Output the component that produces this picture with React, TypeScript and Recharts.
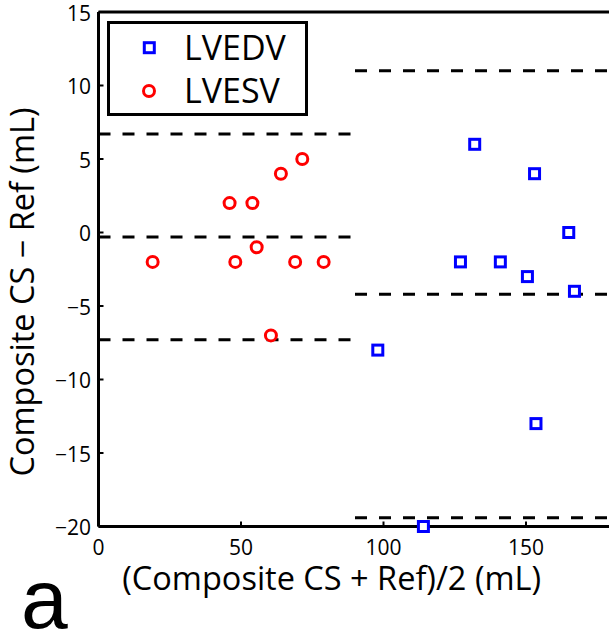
import React from 'react'
import { ScatterChart, Scatter, XAxis, YAxis, ReferenceLine, Legend, Label } from 'recharts'

// Bland-Altman style data: mean of methods vs difference
const edvX = [98, 114, 127, 132, 141, 150.5, 153, 153.5, 165, 167]
const edvY = [-8, -20, -2, 6, -2, -3, 4, -13, 0, -4]
const esvX = [19, 46, 48, 54, 55.5, 60.5, 64, 69, 71.5, 79]
const esvY = [-2, 2, -2, 2, -1, -7, 4, -2, 5, -2]

// upper limit, mean, lower limit
const edvLimits = [11, -4.2, -19.4]
const esvLimits = [6.7, -0.3, -7.3]
const esvSpan = [0, 90]
const edvSpan = [90, 180]

const xTicks = [0, 50, 100, 150]
const yTicks = [-20, -15, -10, -5, 0, 5, 10, 15]

const edvData = edvX.map((x, i) => ({ x, y: edvY[i] }))
const esvData = esvX.map((x, i) => ({ x, y: esvY[i] }))

const FONT = '"Open Sans", sans-serif'
const BLUE = '#0000ff'
const RED = '#ff0000'

const Square = ({ cx, cy }: any) => (
  <rect x={cx - 5} y={cy - 5} width={10} height={10} fill="#fff" stroke={BLUE} strokeWidth={3} />
)
const Ring = ({ cx, cy }: any) => (
  <circle cx={cx} cy={cy} r={5.5} fill="#fff" stroke={RED} strokeWidth={3} />
)

const XTick = ({ x, payload }: any) => (
  <text x={x} y={554.5} textAnchor="middle" fontFamily={FONT} fontSize={21} fill="#000">
    {payload.value}
  </text>
)
const YTick = ({ y, payload }: any) => (
  <text x={91} y={y + 1} dy="0.36em" textAnchor="end" fontFamily={FONT} fontSize={21} fill="#000">
    {String(payload.value).replace('-', '\u2212')}
  </text>
)

const LegendBox = ({ payload }: any) => (
  <div style={{ width: 201, height: 95, border: '3px solid #000', boxSizing: 'border-box', background: '#fff' }}>
    <svg width={195} height={89} style={{ display: 'block' }}>
      {(payload || []).map((entry: any, i: number) => {
        const cy = i === 0 ? 23.7 : 67
        return (
          <g key={entry.value}>
            {i === 0
              ? <rect x={34.3} y={cy - 5} width={10} height={10} fill="#fff" stroke={BLUE} strokeWidth={3} />
              : <circle cx={39} cy={cy} r={5.5} fill="#fff" stroke={RED} strokeWidth={3} />}
            <text x={74} y={i === 0 ? 36 : 78.7} fontFamily={FONT} fontSize={34} fill="#000">{entry.value}</text>
          </g>
        )
      })}
    </svg>
  </div>
)

const dash = { stroke: '#000', strokeWidth: 3, strokeDasharray: '12 12' }
const axisLine = { stroke: '#000', strokeWidth: 3 }
const tickLine = { stroke: '#000', strokeWidth: 2 }

export default function App() {
  return (
    <div style={{ position: 'absolute', left: 0, top: 0, width: 609, height: 639, overflow: 'hidden', background: '#fff' }}>
      <ScatterChart width={614} height={639} margin={{ top: 12, left: 98.5, right: 2.5, bottom: 112.5 }}>
        <XAxis dataKey="x" type="number" domain={[0, 180]} ticks={xTicks} mirror height={1}
          axisLine={axisLine} tickLine={tickLine} tickSize={5} tick={<XTick />}>
          <Label content={() => (
            <g>
              <text x={331.7} y={590} textAnchor="middle" fontFamily={FONT} fontSize={32.5} fill="#000">
                (Composite CS + Ref)/2 (mL)
              </text>
              <text x={21} y={628} fontFamily='"Liberation Sans", Arial, sans-serif' fontSize={84} fill="#000">a</text>
            </g>
          )} />
        </XAxis>
        <XAxis xAxisId="top" orientation="top" type="number" domain={[0, 180]} ticks={xTicks} mirror height={1}
          axisLine={axisLine} tickLine={tickLine} tickSize={5} tick={false} />
        <YAxis dataKey="y" type="number" domain={[-20, 15]} ticks={yTicks} mirror width={1}
          axisLine={axisLine} tickLine={tickLine} tickSize={5} tick={<YTick />}>
          <Label content={() => (
            <text transform="translate(34,292) rotate(-90)" textAnchor="middle" fontFamily={FONT} fontSize={32.5} fill="#000">
              Composite CS {'\u2212'} Ref (mL)
            </text>
          )} />
        </YAxis>
        <YAxis yAxisId="right" orientation="right" type="number" domain={[-20, 15]} ticks={yTicks} mirror width={1}
          axisLine={axisLine} tickLine={tickLine} tickSize={5} tick={false} />
        {esvLimits.map(v => (
          <ReferenceLine key={'esv' + v} segment={[{ x: esvSpan[0], y: v }, { x: esvSpan[1], y: v }]} {...dash} ifOverflow="visible" />
        ))}
        {edvLimits.map(v => (
          <ReferenceLine key={'edv' + v} segment={[{ x: edvSpan[0], y: v }, { x: edvSpan[1], y: v }]} {...dash} ifOverflow="visible" />
        ))}
        <Scatter name="LVEDV" data={edvData} shape={<Square />} fill={BLUE} isAnimationActive={false} />
        <Scatter name="LVESV" data={esvData} shape={<Ring />} fill={RED} isAnimationActive={false} />
        <Legend layout="vertical" align="center" verticalAlign="middle" content={<LegendBox />}
          wrapperStyle={{ left: 107, top: 21, width: 201, height: 95, right: 'auto', bottom: 'auto' }} />
      </ScatterChart>
    </div>
  )
}
